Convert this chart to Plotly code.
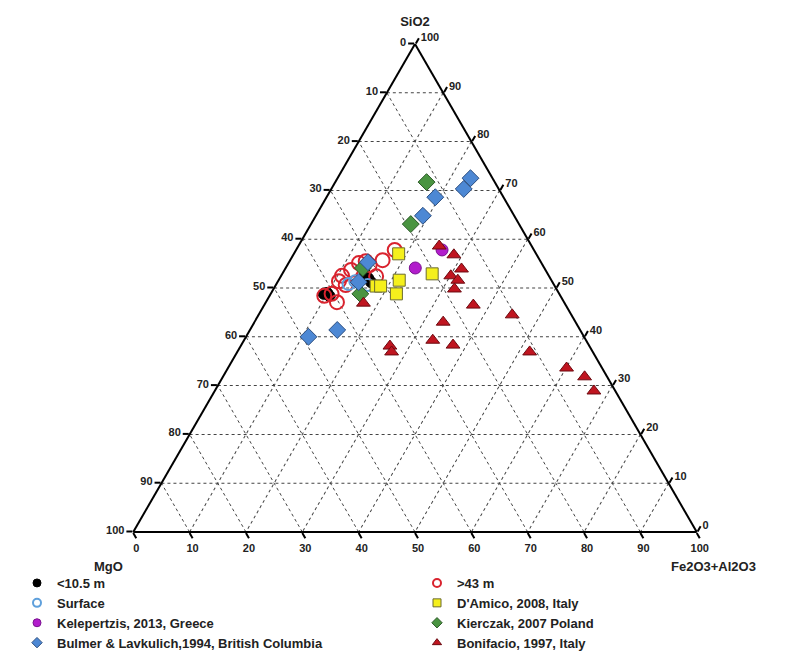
import plotly.graph_objects as go

# ---- data: (SiO2, MgO, Fe2O3+Al2O3) in % ----
lt105_sio2 = [48.8, 49.0, 48.4, 52.9, 52.0, 51.2]
lt105_mgo  = [41.8, 41.1, 41.0, 32.4, 32.3, 32.2]
lt105_fe   = [9.4, 9.9, 10.6, 14.7, 15.7, 16.6]

gt43_sio2 = [57.8, 55.7, 54.7, 55.1, 53.7, 52.5, 51.4, 50.6, 48.4, 48.8, 47.1, 52.4, 55.5]
gt43_mgo  = [24.7, 27.9, 30.7, 32.4, 34.5, 36.7, 37.8, 37.0, 41.9, 40.4, 40.3, 30.7, 31.0]
gt43_fe   = [17.5, 16.4, 14.6, 12.5, 11.8, 10.8, 10.8, 12.4, 9.7, 10.8, 12.6, 16.9, 13.5]

surf_sio2 = [50.8, 50.6, 51.4]
surf_mgo  = [36.4, 33.1, 34.9]
surf_fe   = [12.8, 16.3, 13.7]

damico_sio2 = [57.0, 50.4, 50.4, 51.6, 48.8, 52.9]
damico_mgo  = [24.4, 31.7, 30.9, 27.0, 28.9, 20.5]
damico_fe   = [18.6, 17.9, 18.7, 21.4, 22.3, 26.6]

kel_sio2 = [54.1, 57.8]
kel_mgo  = [22.9, 16.3]
kel_fe   = [23.0, 25.9]

kier_sio2 = [71.7, 63.1, 54.1, 48.8]
kier_mgo  = [12.1, 19.2, 32.2, 35.3]
kier_fe   = [16.2, 17.7, 13.7, 15.9]

bulmer_sio2 = [72.5, 70.3, 68.6, 64.8, 55.3, 51.2, 41.4, 40.0]
bulmer_mgo  = [3.9, 6.2, 12.1, 16.2, 30.7, 34.4, 43.1, 48.9]
bulmer_fe   = [23.6, 23.5, 19.3, 19.0, 14.0, 14.4, 15.5, 11.1]

bon_sio2 = [58.6, 56.8, 53.9, 52.5, 51.6, 49.8, 46.5, 44.5, 43.0, 39.3, 38.3, 36.9, 33.6, 31.8, 28.9, 38.1, 36.9, 46.9]
bon_mgo  = [16.4, 14.7, 14.8, 17.4, 16.6, 18.1, 16.4, 10.5, 23.5, 27.2, 24.1, 11.2, 6.3, 4.0, 3.8, 35.4, 35.7, 35.7]
bon_fe   = [25.0, 28.5, 31.3, 30.1, 31.8, 32.1, 37.1, 45.0, 33.5, 33.5, 37.6, 51.9, 60.1, 64.2, 67.3, 26.5, 27.4, 17.4]

tick_vals = [0, 10, 20, 30, 40, 50, 60, 70, 80, 90, 100]
tick_text = ["100", "90", "80", "70", "60", "50", "40", "30", "20", "10", "0"]

series = [
    # name, a, b, c, symbol, size, fill, outline, outline width
    ("<10.5 m", lt105_sio2, lt105_mgo, lt105_fe, "circle", 11, "#000000", "#000000", 1),
    (">43 m", gt43_sio2, gt43_mgo, gt43_fe, "circle-open", 14, "#d9232e", "#d9232e", 2),
    ("Surface", surf_sio2, surf_mgo, surf_fe, "circle-open", 12, "#5fa0dc", "#5fa0dc", 2),
    ("D'Amico, 2008, Italy", damico_sio2, damico_mgo, damico_fe, "square", 12, "#f5f01c", "#6b6b30", 1),
    ("Kelepertzis, 2013, Greece", kel_sio2, kel_mgo, kel_fe, "circle", 12, "#b21dcc", "#7a1290", 1),
    ("Kierczak, 2007 Poland", kier_sio2, kier_mgo, kier_fe, "diamond", 13, "#4a9441", "#2e5a2a", 1),
    ("Bulmer & Lavkulich,1994, British Columbia", bulmer_sio2, bulmer_mgo, bulmer_fe, "diamond", 13, "#4d88d4", "#2d4f80", 1),
    ("Bonifacio, 1997, Italy", bon_sio2, bon_mgo, bon_fe, "triangle-up", 12, "#c01520", "#6d0a10", 1),
]

fig = go.Figure()

# data traces (hidden from legend, linked by group)
for name, a, b, c, sym, size, col, lcol, lw in series:
    fig.add_trace(go.Scatterternary(
        a=a, b=b, c=c, mode="markers", name=name, legendgroup=name, showlegend=False,
        marker=dict(symbol=sym, size=size, color=col, line=dict(color=lcol, width=lw)),
    ))

# small legend swatches
for name, a, b, c, sym, size, col, lcol, lw in series:
    fig.add_trace(go.Scatterternary(
        a=[None], b=[None], c=[None], mode="markers", name=name, legendgroup=name,
        showlegend=True, hoverinfo="skip",
        marker=dict(symbol=sym, size=8, color=col, line=dict(color=lcol, width=min(lw, 2))),
    ))

font_family = "Liberation Sans, Arial, sans-serif"

def axis(title):
    return dict(
        title=dict(text=title, font=dict(size=13, color="#222", family=font_family)),
        tickmode="array", tickvals=tick_vals, ticktext=tick_text,
        tickfont=dict(size=11, color="#222", family=font_family, weight="bold"),
        ticks="outside", ticklen=6, tickcolor="#000", tickwidth=1.5,
        showline=True, linecolor="#000", linewidth=2,
        showgrid=True, gridcolor="#444", gridwidth=1, griddash="dot",
    )

H = 651.0
W = 806.0
top_px, bot_px = 36, 524
fig.update_layout(
    width=806, height=651,
    margin=dict(l=0, r=0, t=0, b=0, autoexpand=False),
    paper_bgcolor="white",
    ternary=dict(
        sum=100,
        bgcolor="white",
        domain=dict(x=[8 / W, 1], y=[(H - bot_px) / H, (H - top_px) / H]),
        aaxis=axis("<b>SiO2</b>"),
        baxis=axis(""),
        caxis=axis(""),
    ),
    annotations=[
        dict(text="<b>MgO</b>", x=100 / W, y=(H - 558) / H, xref="paper", yref="paper",
             showarrow=False, xanchor="center", yanchor="middle",
             font=dict(size=13, color="#222", family=font_family)),
        dict(text="<b>Fe2O3+Al2O3</b>", x=705 / W, y=(H - 558) / H, xref="paper", yref="paper",
             showarrow=False, xanchor="center", yanchor="middle",
             font=dict(size=13, color="#222", family=font_family)),
    ],
    showlegend=True,
    legend=dict(
        orientation="h",
        x=9 / W, y=(H - 560) / H, xanchor="left", yanchor="top",
        entrywidth=355, entrywidthmode="pixels",
        font=dict(size=13, color="#222", family=font_family, weight="bold"),
        itemwidth=30,
        bgcolor="rgba(0,0,0,0)",
        traceorder="normal",
    ),
    font=dict(family=font_family),
)

fig.write_html("out.html")
